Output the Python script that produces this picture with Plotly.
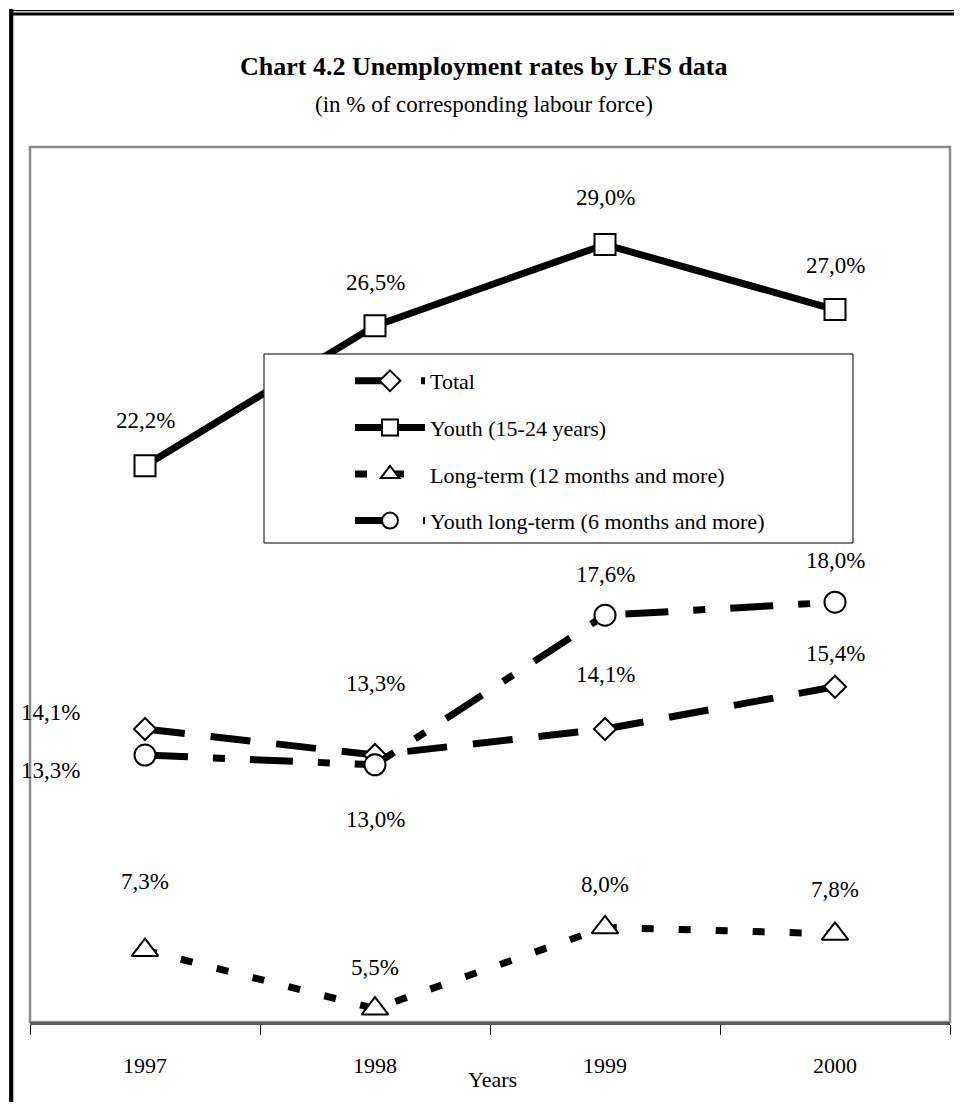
import plotly.graph_objects as go

years = ["1997", "1998", "1999", "2000"]
total = [14.1, 13.3, 14.1, 15.4]
youth = [22.2, 26.5, 29.0, 27.0]
long_term = [7.3, 5.5, 8.0, 7.8]
youth_long_term = [13.3, 13.0, 17.6, 18.0]

names = ["Total", "Youth (15-24 years)", "Long-term (12 months and more)",
         "Youth long-term (6 months and more)"]

# page body has an 8px margin; figure sized to fit the 962x1110 window
OFF = 8
W, H = 946, 1094
L, R, T, B = 22, 4, 139, 80
PW, PH = W - L - R, H - T - B


def px(x):
    """screen x -> paper x"""
    return (x - OFF - L) / PW


def py(y):
    """screen y -> paper y"""
    return (H - B - (y - OFF)) / PH


FONT = "Liberation Serif"

series = [
    dict(y=total, name=names[0], dash="40px,26px", symbol="diamond", size=17,
         offs=[(-95, 17), (0, 72), (0, 55), (0, 33)]),
    dict(y=youth, name=names[1], dash="solid", symbol="square", size=21,
         offs=[(0, 45), (0, 43), (0, 47), (0, 44)]),
    dict(y=long_term, name=names[2], dash="12px,25px", symbol="triangle-up", size=23,
         offs=[(0, 69), (0, 41), (0, 43), (0, 44)]),
    dict(y=youth_long_term, name=names[3], dash="43px,25px,12px,25px", symbol="circle", size=21,
         offs=[(-95, -15), (0, -55), (0, 41), (0, 42)]),
]

fig = go.Figure()
annotations = []
for i, s in enumerate(series):
    fig.add_trace(go.Scatter(
        x=years, y=s["y"], name=s["name"], mode="lines+markers",
        legendgroup=str(i),
        line=dict(color="black", width=7, dash=s["dash"]),
        marker=dict(symbol=s["symbol"], size=s["size"], color="white",
                    line=dict(color="black", width=2)),
        hoverinfo="skip",
    ))
    for j, (yv, (dx, dy)) in enumerate(zip(s["y"], s["offs"])):
        annotations.append(dict(
            x=j, y=yv, xref="x", yref="y", showarrow=False,
            text=f"{yv:.1f}".replace(".", ",") + "%",
            xshift=dx, yshift=dy, xanchor="center", yanchor="middle",
            font=dict(family=FONT, size=23, color="black"),
        ))

annotations += [
    dict(x=px(484), y=py(66), xref="paper", yref="paper", showarrow=False,
         text="<b>Chart 4.2 Unemployment rates by LFS data</b>",
         xanchor="center", yanchor="middle",
         font=dict(family=FONT, size=26, color="black")),
    dict(x=px(484), y=py(104), xref="paper", yref="paper", showarrow=False,
         text="(in % of corresponding labour force)",
         xanchor="center", yanchor="middle",
         font=dict(family=FONT, size=23, color="black")),
    dict(x=px(492), y=py(1079), xref="paper", yref="paper", showarrow=False,
         text="Years", xanchor="center", yanchor="middle",
         font=dict(family=FONT, size=22, color="black")),
]

shapes = [
    # plot area border
    dict(type="rect", xref="paper", yref="paper", x0=0, x1=1, y0=0, y1=1,
         line=dict(color="#8a8a8a", width=2.5), fillcolor="rgba(0,0,0,0)", layer="below"),
    # legend box
    dict(type="rect", xref="paper", yref="paper", x0=px(264), x1=px(853),
         y0=py(543), y1=py(354), line=dict(color="black", width=1),
         fillcolor="white", layer="above"),
    # outer double frame (top and left)
    dict(type="line", xref="paper", yref="paper", x0=px(9), x1=px(975),
         y0=py(10.7), y1=py(10.7), line=dict(color="black", width=1.3)),
    dict(type="line", xref="paper", yref="paper", x0=px(11), x1=px(975),
         y0=py(14), y1=py(14), line=dict(color="black", width=2.8)),
    dict(type="line", xref="paper", yref="paper", x0=px(11.2), x1=px(11.2),
         y0=py(9), y1=py(1120), line=dict(color="black", width=4.2)),
]

fig.update_layout(
    width=W, height=H,
    margin=dict(l=L, r=R, t=T, b=B),
    paper_bgcolor="white", plot_bgcolor="white",
    font=dict(family=FONT, color="black"),
    showlegend=True,
    legend=dict(x=px(350), y=py(360), xanchor="left", yanchor="top",
                bgcolor="rgba(0,0,0,0)", borderwidth=0,
                font=dict(family=FONT, size=22, color="black"),
                itemwidth=70, tracegroupgap=15, itemclick=False,
                itemdoubleclick=False),
    xaxis=dict(type="category", range=[-0.5, 3.5], showgrid=False,
               showline=True, linecolor="#5a5a5a", linewidth=2.5,
               ticks="outside", tickson="boundaries", ticklen=10,
               tickcolor="black", tickwidth=1, ticklabelstandoff=22,
               tickfont=dict(family=FONT, size=22, color="black"),
               zeroline=False, fixedrange=True),
    yaxis=dict(range=[5.09, 32.0], visible=False, showgrid=False,
               zeroline=False, fixedrange=True),
    annotations=annotations,
    shapes=shapes,
)

fig.write_html("out.html")
